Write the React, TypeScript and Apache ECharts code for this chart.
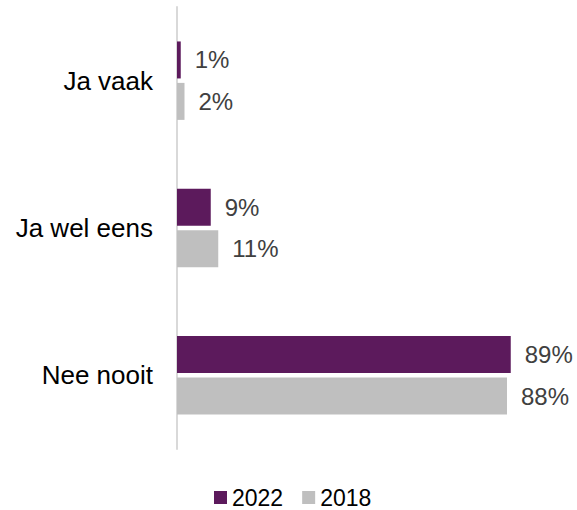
import React, { useEffect, useRef } from "react";
import * as echarts from "echarts";

const categories = ["Ja vaak", "Ja wel eens", "Nee nooit"];
const series2022 = [1, 9, 89];
const series2018 = [2, 11, 88];
const seriesNames = ["2022", "2018"];

export default function App() {
  const ref = useRef<HTMLDivElement>(null);
  useEffect(() => {
    if (!ref.current) return;
    const chart = echarts.init(ref.current, null, { renderer: "svg" });
    const font = "Liberation Sans, Arial, sans-serif";
    const label = {
      show: true,
      position: "right",
      distance: 14,
      formatter: "{c}%",
      color: "#404040",
      fontSize: 24,
      fontFamily: font,
    };
    chart.setOption({
      animation: false,
      grid: { left: 177, top: 7, right: 25, bottom: 61 },
      legend: {
        data: seriesNames,
        left: 214,
        top: 486,
        padding: 0,
        itemWidth: 13,
        itemHeight: 13,
        itemGap: 19,
        icon: "rect",
        textStyle: { fontSize: 23, color: "#000", fontFamily: font },
      },
      xAxis: {
        type: "value",
        min: 0,
        max: 100,
        show: false,
        splitLine: { show: false },
      },
      yAxis: {
        type: "category",
        data: categories,
        inverse: true,
        axisLine: { show: true, lineStyle: { color: "#d9d9d9", width: 2 } },
        axisTick: { show: false },
        axisLabel: {
          color: "#000",
          fontSize: 26,
          fontFamily: font,
          margin: 24,
        },
      },
      series: [
        {
          name: seriesNames[0],
          type: "bar",
          data: series2022,
          barWidth: 37,
          barGap: "12%",
          itemStyle: { color: "#5c1a5c" },
          label,
        },
        {
          name: seriesNames[1],
          type: "bar",
          data: series2018,
          barWidth: 37,
          barGap: "12%",
          itemStyle: { color: "#bfbfbf" },
          label,
        },
      ],
    });
    return () => chart.dispose();
  }, []);
  return (
    <div
      ref={ref}
      style={{ position: "absolute", left: 0, top: 0, width: 577, height: 510 }}
    />
  );
}
